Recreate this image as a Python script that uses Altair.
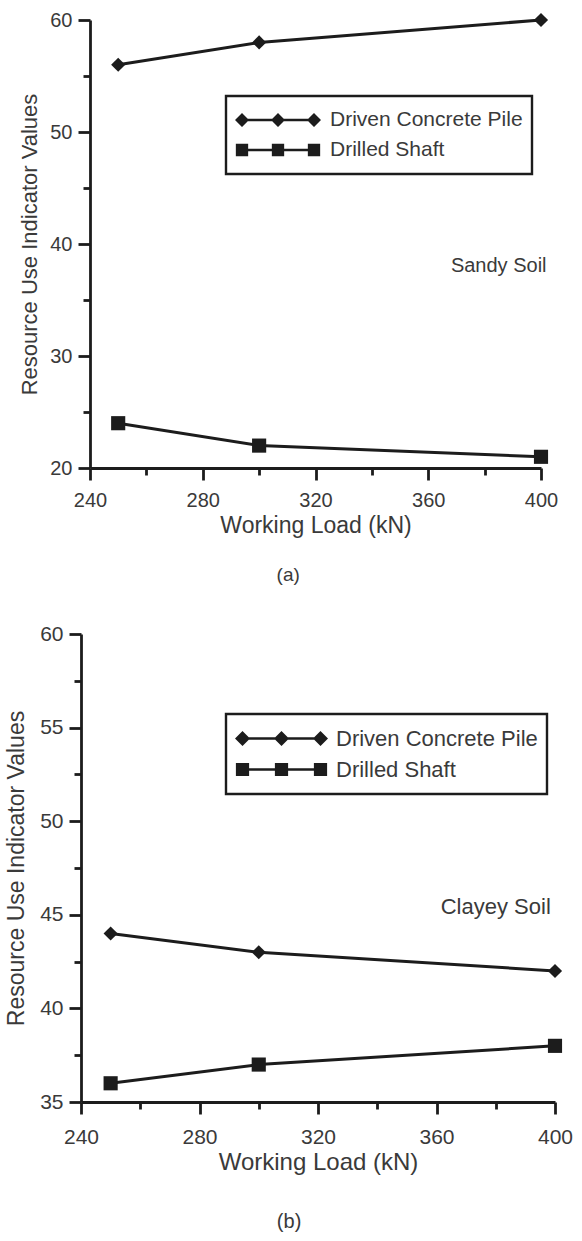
import altair as alt
import pandas as pd

# ---------------- data ----------------
loads = [250, 300, 400]
series_names = ["Driven Concrete Pile", "Drilled Shaft"]

sandy_driven = [56, 58, 60]
sandy_drilled = [24, 22, 21]
clayey_driven = [44, 43, 42]
clayey_drilled = [36, 37, 38]

x_tick_values = [240, 260, 280, 300, 320, 340, 360, 380, 400]
sandy_y_ticks = [20, 25, 30, 35, 40, 45, 50, 55, 60]
clayey_y_ticks = [35, 37.5, 40, 42.5, 45, 47.5, 50, 52.5, 55, 57.5, 60]

sandy_note_text = ["Sandy Soil"]
sandy_note_x = [385]
sandy_note_y = [38.0]
clayey_note_text = ["Clayey Soil"]
clayey_note_x = [380]
clayey_note_y = [45.4]

FONT = "Liberation Sans"
INK = "#1c1c1c"
TEXT = "#3a3a3a"


def frame(driven, drilled):
    rows = []
    for name, vals in zip(series_names, [driven, drilled]):
        for l, v in zip(loads, vals):
            rows.append({"load": l, "value": v, "series": name})
    return pd.DataFrame(rows)


def legend_path(kind, w, half):
    r = w / 2.0
    u = half / r
    t = 1.3 / r
    a = 1 - u
    parts = [f"M{-a:.4f},{-t:.4f}L{a:.4f},{-t:.4f}L{a:.4f},{t:.4f}L{-a:.4f},{t:.4f}Z"]
    for c in (-a, 0.0, a):
        if kind == "diamond":
            parts.append(f"M{c-u:.4f},0L{c:.4f},{-u:.4f}L{c+u:.4f},0L{c:.4f},{u:.4f}Z")
        else:
            s = u * 0.88
            parts.append(f"M{c-s:.4f},{-s:.4f}L{c+s:.4f},{-s:.4f}L{c+s:.4f},{s:.4f}L{c-s:.4f},{s:.4f}Z")
    return "".join(parts)


def panel(df, note_df, y_domain, y_ticks, y_major, width, height, x_range, y_axis_offset,
          tick_font, title_font, y_label_pad, y_title_pad, x_label_pad, x_title_pad,
          legend_x, legend_y, sym_w, sym_half, legend_font, legend_pad, clip_h, label_off,
          note_font, caption, caption_font, caption_offset, point_size):
    xs = dict(domain=[240, 400], nice=False, zero=False)
    if x_range is not None:
        xs["range"] = x_range
    X = alt.X(
        "load:Q",
        scale=alt.Scale(**xs),
        axis=alt.Axis(
            values=x_tick_values, title="Working Load (kN)", grid=False,
            labelExpr="datum.value % 40 === 0 ? datum.label : ''",
            tickSize={"condition": {"test": "datum.value % 40 === 0", "value": 12}, "value": 7},
            tickWidth=2.8, tickColor=INK, domainColor=INK, domainWidth=2.8,
            labelFont=FONT, labelFontSize=tick_font, labelColor=TEXT, labelPadding=x_label_pad,
            labelOverlap=False, labelFlush=False,
            titleFont=FONT, titleFontSize=title_font + 1, titleColor=TEXT, titleFontWeight="normal",
            titlePadding=x_title_pad,
        ),
    )
    yax = dict(
        values=y_ticks, title="Resource Use Indicator Values", grid=False,
        labelExpr=f"datum.value % {y_major} === 0 ? datum.label : ''",
        tickSize={"condition": {"test": f"datum.value % {y_major} === 0", "value": 12}, "value": 7},
        tickWidth=2.8, tickColor=INK, domainColor=INK, domainWidth=2.8,
        labelFont=FONT, labelFontSize=tick_font, labelColor=TEXT, labelPadding=y_label_pad,
        labelOverlap=False, labelFlush=False,
        titleFont=FONT, titleFontSize=title_font, titleColor=TEXT, titleFontWeight="normal",
        titlePadding=y_title_pad,
    )
    if y_axis_offset:
        yax["offset"] = y_axis_offset
    Y = alt.Y("value:Q", scale=alt.Scale(domain=y_domain, nice=False, zero=False),
              axis=alt.Axis(**yax))

    base = alt.Chart(df)
    line = base.mark_line(color=INK, strokeWidth=3).encode(x=X, y=Y, detail="series:N")
    pts = base.mark_point(filled=True, color=INK, opacity=1, size=point_size).encode(
        x=X, y=Y,
        shape=alt.Shape("series:N",
                        scale=alt.Scale(domain=series_names, range=["diamond", "square"]),
                        legend=None),
    )
    leg = base.mark_point(filled=True, color=INK, opacity=1).encode(
        x=X, y=Y,
        shape=alt.Shape(
            "series:N",
            scale=alt.Scale(domain=series_names,
                            range=[legend_path("diamond", sym_w, sym_half),
                                   legend_path("square", sym_w, sym_half)]),
            legend=alt.Legend(
                title=None, orient="none", legendX=legend_x, legendY=legend_y,
                strokeColor=INK, fillColor="white", padding=legend_pad, cornerRadius=0,
                symbolSize=sym_w * sym_w, symbolStrokeWidth=0, symbolFillColor=INK,
                symbolOpacity=1, symbolOffset=0, clipHeight=clip_h, rowPadding=0,
                labelFont=FONT, labelFontSize=legend_font, labelColor=TEXT,
                labelOffset=label_off, labelLimit=400,
            ),
        ),
    ).transform_filter("false")
    note = alt.Chart(note_df).mark_text(
        font=FONT, fontSize=note_font, color=TEXT, align="center", baseline="middle"
    ).encode(x=X, y=Y, text="text:N")

    return alt.layer(line, pts, leg, note).resolve_scale(shape="independent").properties(
        width=width, height=height,
        title=alt.TitleParams(caption, orient="bottom", anchor="middle", frame="bounds",
                              font=FONT, fontSize=caption_font, fontWeight="normal",
                              color=TEXT, offset=caption_offset),
    )


top_notes = pd.DataFrame({"text": sandy_note_text, "load": sandy_note_x, "value": sandy_note_y})
bottom_notes = pd.DataFrame({"text": clayey_note_text, "load": clayey_note_x, "value": clayey_note_y})

top = panel(frame(sandy_driven, sandy_drilled), top_notes, [20, 60], sandy_y_ticks, 10,
            460, 448, [9, 460], -9,
            20, 22, 6, 8, 10, 4,
            145, 76, 86, 7, 21, 9, 30, 9,
            20, "(a)", 19, 29, 200)

bottom = panel(frame(clayey_driven, clayey_drilled), bottom_notes, [35, 60], clayey_y_ticks, 5,
               474, 468, None, 0,
               21, 23, 6, 11, 12, 3,
               145, 80, 93, 7.5, 22, 9, 31, 8,
               22, "(b)", 20, 38, 200)

chart = alt.vconcat(top, bottom, spacing=38).properties(
    padding={"left": 5, "top": 10, "right": 0, "bottom": 5}
).configure_view(strokeWidth=0).configure_legend(strokeWidth=2.4)

chart.save("out.html", embed_options={"renderer": "svg", "actions": False})
